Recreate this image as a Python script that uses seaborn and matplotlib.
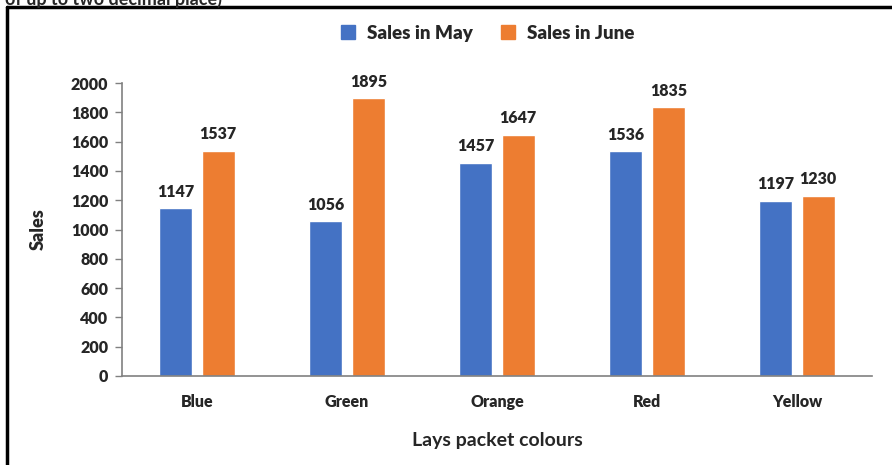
import matplotlib
matplotlib.use('Agg')
import matplotlib.pyplot as plt
import pandas as pd
import seaborn as sns
from matplotlib.lines import Line2D

# --- data ---
colours = ["Blue", "Green", "Orange", "Red", "Yellow"]
sales_may = [1147, 1056, 1457, 1536, 1197]
sales_june = [1537, 1895, 1647, 1835, 1230]
series_names = ["Sales in May", "Sales in June"]
y_ticks = [0, 200, 400, 600, 800, 1000, 1200, 1400, 1600, 1800, 2000]

df = pd.DataFrame({
    "colour": colours * 2,
    "sales": sales_may + sales_june,
    "series": [series_names[0]] * len(colours) + [series_names[1]] * len(colours),
})

sns.set_style("white")
plt.rcParams['font.family'] = ['Lato', 'DejaVu Sans']

fig = plt.figure(figsize=(8.92, 4.65), dpi=100)
ax = fig.add_axes([0.1368, 0.1914, 0.8408, 0.6301])

palette = {series_names[0]: "#4472C4", series_names[1]: "#ED7D31"}
sns.barplot(data=df, x="colour", y="sales", hue="series", palette=palette,
            width=0.567, gap=0.22, saturation=1, ax=ax, legend=False)

for cont in ax.containers:
    ax.bar_label(cont, padding=6, fontsize=11.5, fontweight='heavy')

ax.set_ylim(0, 2000)
ax.set_xlim(-0.5, len(colours) - 0.5)
ax.set_yticks(y_ticks)
ax.set_yticklabels([str(t) for t in y_ticks], fontsize=11.5, fontweight='heavy')
ax.set_xticks(range(len(colours)))
ax.set_xticklabels(colours, fontsize=11.5, fontweight='heavy')
ax.tick_params(axis='y', length=5, width=1, color='#808080', pad=5, direction='out', left=True)
ax.tick_params(axis='x', length=0, pad=13)

for s in ["top", "right"]:
    ax.spines[s].set_visible(False)
for s in ["left", "bottom"]:
    ax.spines[s].set_color('#808080')
    ax.spines[s].set_linewidth(1.2)

ax.set_xlabel("Lays packet colours", fontsize=14, fontweight='bold', labelpad=16)
ax.set_ylabel("Sales", fontsize=13, fontweight='heavy', labelpad=17)

handles = [Line2D([], [], marker='s', linestyle='none', markersize=10,
                  color=palette[n]) for n in series_names]
fig.legend(handles, series_names, loc='center', bbox_to_anchor=(0.54, 0.928),
           ncol=2, frameon=False, prop={'weight': 'heavy', 'size': 13.5},
           handletextpad=0.0, columnspacing=0.9)

# outer frame (left and top edges visible) and cut-off question text
fig.add_artist(Line2D([7 / 892, 7 / 892], [0, 1 - 7 / 465], color='black', linewidth=2.5))
fig.add_artist(Line2D([7 / 892, 1], [1 - 7 / 465, 1 - 7 / 465], color='black', linewidth=2.5))
fig.text(0.006, 1.003, "of up to two decimal place)", fontsize=13, fontweight='bold', va='center')

fig.savefig("out.png", dpi=100)
